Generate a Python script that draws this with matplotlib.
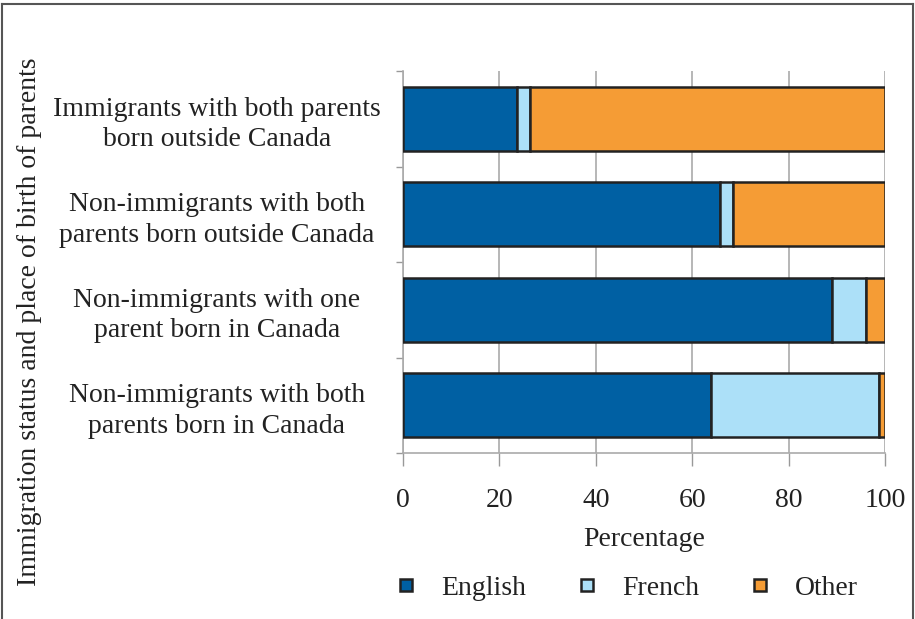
import matplotlib.pyplot as plt
from matplotlib.lines import Line2D

categories = [
    "Immigrants with both parents\nborn outside Canada",
    "Non-immigrants with both\nparents born outside Canada",
    "Non-immigrants with one\nparent born in Canada",
    "Non-immigrants with both\nparents born in Canada",
]
english = [23.6, 65.8, 89.1, 64.0]
french = [2.8, 2.7, 7.0, 34.8]
other = [73.6, 31.5, 3.9, 1.2]
series_names = ["English", "French", "Other"]
colors = ["#0060A3", "#ACE0F8", "#F59C35"]

plt.rcParams["font.family"] = ["Liberation Serif", "DejaVu Serif"]
FS = 20

fig = plt.figure(figsize=(9.15, 6.19), dpi=100)
ax = fig.add_axes([403 / 915, 1 - 453 / 619, 482 / 915, 382 / 619])

ypos = list(range(len(categories)))[::-1]
left = [0.0] * len(categories)
for vals, name, col in zip([english, french, other], series_names, colors):
    ax.barh(ypos, vals, left=left, height=0.67, color=col,
            edgecolor="#222222", linewidth=1.8, label=name, zorder=3)
    left = [a + b for a, b in zip(left, vals)]

ax.set_xlim(0, 100)
ax.set_ylim(-0.5, len(categories) - 0.5)
ax.set_xticks([0, 20, 40, 60, 80, 100])
ax.set_yticks(ypos)
ax.set_yticklabels(categories, fontsize=FS, ha="center", linespacing=1.3,
                   color="#222222")
ax.tick_params(axis="y", length=0, pad=134)
ax.set_yticks([-0.5, 0.5, 1.5, 2.5, 3.5], minor=True)
ax.tick_params(axis="y", which="minor", length=5, color="#999999", width=1)
ax.tick_params(axis="x", labelsize=FS, length=9, color="#999999", width=1, pad=16,
               direction="out", labelcolor="#222222")
ax.xaxis.grid(True, color="#AAAAAA", linewidth=1.2, zorder=0)
ax.set_axisbelow(True)
for s in ["top", "right"]:
    ax.spines[s].set_visible(False)
for s in ["left", "bottom"]:
    ax.spines[s].set_color("#AAAAAA")
    ax.spines[s].set_linewidth(1.2)

ax.set_xlabel("Percentage", fontsize=FS, labelpad=10, color="#222222")
fig.text(30 / 915, 1 - 322 / 619, "Immigration status and place of birth of parents",
         rotation=90, fontsize=FS, ha="center", va="center", color="#222222")

handles = [Line2D([], [], marker="s", linestyle="none", markersize=9,
                  markerfacecolor=c, markeredgecolor="#222222", markeredgewidth=1.8)
           for c in colors]
leg = fig.legend(handles, series_names, loc="center",
                 bbox_to_anchor=(625 / 915, 1 - 588 / 619),
                 ncol=3, frameon=False, fontsize=FS, columnspacing=1.7,
                 handletextpad=0.75, handlelength=1.0)
for t in leg.get_texts():
    t.set_color("#222222")

# frame around the figure
for xs, ys in [([2, 913], [4, 4]), ([2, 2], [4, 619]), ([913, 913], [4, 619])]:
    fig.add_artist(Line2D([x / 915 for x in xs], [1 - y / 619 for y in ys],
                          color="#555555", linewidth=1.5))

fig.savefig("out.png", dpi=100)
